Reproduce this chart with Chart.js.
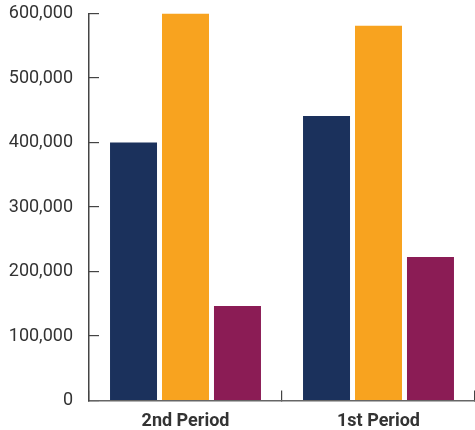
<!DOCTYPE html>
<html>
<head>
<meta charset="utf-8">
<script src="https://cdn.jsdelivr.net/npm/chart.js@4/dist/chart.umd.min.js"></script>
<style>
html,body{margin:0;padding:0;background:#fff;}
canvas{display:block;}
</style>
</head>
<body>
<canvas id="c" width="475" height="430"></canvas>
<script>
const categories = ["2nd Period", "1st Period"];
const seriesNames = ["Series A", "Series B", "Series C"];
const seriesA = [400000, 441000];
const seriesB = [600000, 581000];
const seriesC = [146500, 222500];
const yTicks = [0, 100000, 200000, 300000, 400000, 500000, 600000];
const colors = ["#1b315c", "#f8a31f", "#8b1c55"];

const ctx = document.getElementById('c').getContext('2d');
new Chart(ctx, {
  type: 'bar',
  data: {
    labels: categories,
    datasets: [seriesA, seriesB, seriesC].map((d, i) => ({
      label: seriesNames[i],
      data: d,
      backgroundColor: colors[i],
      borderWidth: 0,
      categoryPercentage: 0.808,
      barPercentage: 0.904
    }))
  },
  options: {
    responsive: false,
    animation: false,
    devicePixelRatio: 1,
    layout: { padding: { left: 0, right: 0, top: 13.5, bottom: 0 } },
    plugins: { legend: { display: false }, tooltip: { enabled: false } },
    scales: {
      x: {
        grid: { display: true, drawOnChartArea: false, drawTicks: true, tickLength: -10, color: '#444', lineWidth: 1.2, offset: true },
        border: { display: true, color: '#666', width: 1.5 },
        ticks: { color: '#333', padding: 20, font: { family: 'Roboto', size: 18, weight: 'bold' } },
        afterFit: (s) => { s.height = 29.5; s.paddingLeft = 0; s.paddingRight = 0; }
      },
      y: {
        min: 0,
        max: 600000,
        afterBuildTicks: (s) => { s.ticks = yTicks.map(v => ({ value: v })); },
        grid: { display: true, drawOnChartArea: false, drawTicks: true, tickLength: -10, color: '#444', lineWidth: 1.2 },
        border: { display: true, color: '#444', width: 1.5 },
        ticks: {
          color: '#333',
          padding: 26,
          font: { family: 'Roboto', size: 18 },
          callback: (v) => Number(v).toLocaleString('en-US')
        },
        afterFit: (s) => { s.width = 89; s.paddingTop = 0; s.paddingBottom = 0; }
      }
    }
  }
});
</script>
</body>
</html>
